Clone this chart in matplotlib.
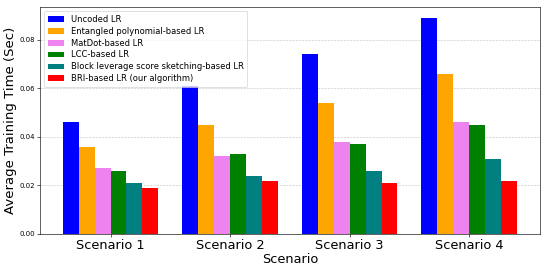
import matplotlib
matplotlib.use("Agg")
import matplotlib.pyplot as plt
import numpy as np

scenarios = ["Scenario 1", "Scenario 2", "Scenario 3", "Scenario 4"]
methods = ["Uncoded LR", "Entangled polynomial-based LR", "MatDot-based LR",
           "LCC-based LR", "Block leverage score sketching-based LR",
           "BRI-based LR (our algorithm)"]
colors = ["blue", "orange", "violet", "green", "teal", "red"]

uncoded = [0.046, 0.061, 0.074, 0.089]
entangled = [0.036, 0.045, 0.054, 0.066]
matdot = [0.027, 0.032, 0.038, 0.046]
lcc = [0.026, 0.033, 0.037, 0.045]
sketching = [0.021, 0.024, 0.026, 0.031]
bri = [0.019, 0.022, 0.021, 0.022]
series = [uncoded, entangled, matdot, lcc, sketching, bri]

fig = plt.figure(figsize=(10, 5), dpi=54.8)
ax = fig.add_axes([0.073, 0.146, 0.912, 0.828])

x = np.arange(len(scenarios))
width = 0.8 / len(series)
for i, vals in enumerate(series):
    ax.bar(x + (i - 2.5) * width, vals, width, color=colors[i], label=methods[i], zorder=3)

ax.set_xticks(x)
ax.set_xticklabels(scenarios, fontsize=17)
ax.set_xlabel("Scenario", fontsize=17, labelpad=1)
ax.set_ylabel("Average Training Time (Sec)", fontsize=17.5, labelpad=3)
ax.set_ylim(0, 0.0934)
ax.set_yticks([0.0, 0.02, 0.04, 0.06, 0.08])
ax.set_yticklabels(["0.00", "0.02", "0.04", "0.06", "0.08"], fontsize=9)
ax.grid(axis="y", linestyle="--", alpha=0.7, zorder=0)
ax.legend(loc="upper left", fontsize=11, labelspacing=0.35)

fig.savefig("out.png", dpi=54.8)
